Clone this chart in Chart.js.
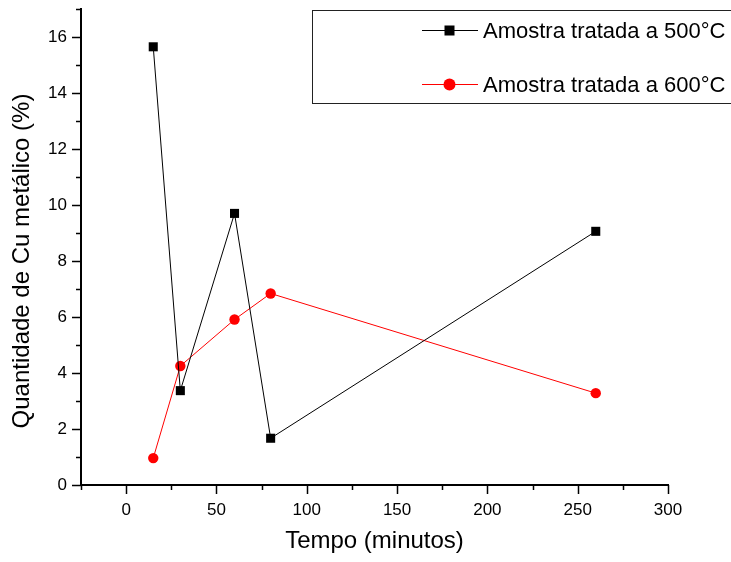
<!DOCTYPE html>
<html>
<head>
<meta charset="utf-8">
<script src="https://cdn.jsdelivr.net/npm/chart.js@4/dist/chart.umd.min.js"></script>
<style>
  html, body { margin: 0; padding: 0; background: #fff; }
  #c { display: block; }
</style>
</head>
<body>
<canvas id="c" width="731" height="562"></canvas>
<script>
// ---- data ----
const tempo = [15, 30, 60, 80, 260];
const cu500 = [15.65, 3.37, 9.70, 1.67, 9.06];
const cu600 = [0.96, 4.25, 5.91, 6.84, 3.28];
const label500 = 'Amostra tratada a 500°C';
const label600 = 'Amostra tratada a 600°C';
const xTitle = 'Tempo (minutos)';
const yTitle = 'Quantidade de Cu metálico (%)';
const xTicks = [0, 50, 100, 150, 200, 250, 300];
const xMinorTicks = [-25, 25, 75, 125, 175, 225, 275];
const yTicks = [0, 2, 4, 6, 8, 10, 12, 14, 16];
const yMinorTicks = [1, 3, 5, 7, 9, 11, 13, 15, 17];

const FONT = "'Liberation Sans', Arial, sans-serif";
Chart.defaults.font.family = FONT;
Chart.defaults.color = '#000';

const toPts = (xs, ys) => xs.map((x, i) => ({ x: x, y: ys[i] }));

// axis tick marks (major + minor), drawn through the scales
const tickMarks = {
  id: 'tickMarks',
  afterDraw(chart) {
    const ctx = chart.ctx;
    const xs = chart.scales.x, ys = chart.scales.y;
    const a = chart.chartArea;
    ctx.save();
    ctx.strokeStyle = '#000';
    ctx.lineWidth = 1.5;
    ctx.beginPath();
    xTicks.forEach(v => { const p = Math.round(xs.getPixelForValue(v)) + 0.5; ctx.moveTo(p, a.bottom); ctx.lineTo(p, a.bottom + 9); });
    xMinorTicks.forEach(v => { const p = Math.round(xs.getPixelForValue(v)) + 0.5; ctx.moveTo(p, a.bottom); ctx.lineTo(p, a.bottom + 5); });
    yTicks.forEach(v => { const p = Math.round(ys.getPixelForValue(v)) + 0.5; ctx.moveTo(a.left, p); ctx.lineTo(a.left - 9, p); });
    yMinorTicks.forEach(v => { const p = Math.round(ys.getPixelForValue(v)) + 0.5; ctx.moveTo(a.left, p); ctx.lineTo(a.left - 5, p); });
    ctx.stroke();
    ctx.restore();
  }
};

// rotated y title, placed as in the reference
const yTitlePlugin = {
  id: 'yTitlePlugin',
  afterDraw(chart) {
    const ctx = chart.ctx;
    ctx.save();
    ctx.translate(22, 261);
    ctx.rotate(-Math.PI / 2);
    ctx.font = '24px ' + FONT;
    ctx.fillStyle = '#000';
    ctx.textAlign = 'center';
    ctx.textBaseline = 'middle';
    ctx.fillText(yTitle, 0, 0);
    ctx.restore();
  }
};

// boxed legend in the upper right, as in the reference
const boxLegend = {
  id: 'boxLegend',
  afterDraw(chart) {
    const ctx = chart.ctx;
    ctx.save();
    ctx.strokeStyle = '#222';
    ctx.lineWidth = 1;
    ctx.strokeRect(312.5, 10.5, 500, 93);
    const rows = [30.5, 84.5];
    chart.data.datasets.forEach((ds, i) => {
      const y = rows[i];
      ctx.strokeStyle = ds.borderColor;
      ctx.lineWidth = 1;
      ctx.beginPath();
      ctx.moveTo(422, y);
      ctx.lineTo(478, y);
      ctx.stroke();
      ctx.fillStyle = ds.backgroundColor;
      if (ds.pointStyle === 'rect') {
        ctx.fillRect(444.5, y - 5, 10, 10);
      } else {
        ctx.beginPath();
        ctx.arc(449.5, y, 6, 0, Math.PI * 2);
        ctx.fill();
      }
      ctx.fillStyle = '#000';
      ctx.font = '22px ' + FONT;
      ctx.textAlign = 'left';
      ctx.textBaseline = 'alphabetic';
      ctx.fillText(ds.label, 483, y + 7.5);
    });
    ctx.restore();
  }
};

new Chart(document.getElementById('c'), {
  type: 'scatter',
  data: {
    datasets: [
      {
        label: label500,
        data: toPts(tempo, cu500),
        showLine: true,
        borderColor: '#000',
        backgroundColor: '#000',
        borderWidth: 1,
        pointStyle: 'rect',
        pointRadius: 6.4,
        pointBorderWidth: 0,
        pointBackgroundColor: '#000',
        clip: false
      },
      {
        label: label600,
        data: toPts(tempo, cu600),
        showLine: true,
        borderColor: '#ff0000',
        backgroundColor: '#ff0000',
        borderWidth: 1,
        pointStyle: 'circle',
        pointRadius: 5.2,
        pointBorderWidth: 0,
        pointBackgroundColor: '#ff0000',
        clip: false
      }
    ]
  },
  options: {
    responsive: false,
    animation: false,
    devicePixelRatio: 1,
    layout: { padding: { left: 0, right: 63, top: 9, bottom: 0 } },
    plugins: {
      legend: { display: false },
      tooltip: { enabled: false }
    },
    scales: {
      x: {
        type: 'linear',
        min: -25,
        max: 300,
        afterBuildTicks: s => { s.ticks = xTicks.map(v => ({ value: v })); },
        afterFit: s => { s.height = 77; s.paddingLeft = 0; s.paddingRight = 0; },
        grid: { display: false, drawTicks: false },
        border: { display: true, color: '#000', width: 2 },
        ticks: { font: { size: 17 }, color: '#000', padding: 15, maxRotation: 0, autoSkip: false },
        title: { display: true, text: xTitle, font: { size: 24 }, color: '#000', padding: { top: 0, bottom: 6 } }
      },
      y: {
        type: 'linear',
        min: 0,
        max: 17,
        afterBuildTicks: s => { s.ticks = yTicks.map(v => ({ value: v })); },
        afterFit: s => { s.width = 81; s.paddingTop = 0; s.paddingBottom = 0; },
        grid: { display: false, drawTicks: false },
        border: { display: true, color: '#000', width: 2 },
        ticks: { font: { size: 17 }, color: '#000', padding: 14, autoSkip: false }
      }
    }
  },
  plugins: [tickMarks, yTitlePlugin, boxLegend]
});
</script>
</body>
</html>
